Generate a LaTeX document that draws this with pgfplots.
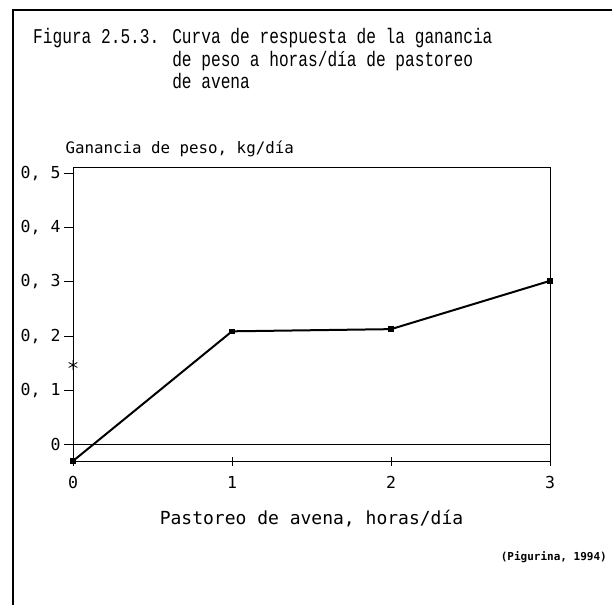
\documentclass[border=0pt]{standalone}
\usepackage{fontspec}
\usepackage{pgfplots}
\pgfplotsset{compat=1.18}
\newfontfamily\titlefont[FakeStretch=0.77]{Liberation Mono}
\newfontfamily\plotfont{DejaVu Sans Mono}

% ganancia de peso (kg/dia) segun horas/dia de pastoreo
\pgfplotstableread{
x y
0 -0.03
1 0.209
2 0.213
3 0.302
}\ganancia

\begin{document}
\begin{tikzpicture}
% marco de la pagina (solo izquierda y arriba, como el original)
\useasboundingbox (0,0) rectangle (612pt,605pt);
\draw[line width=2.2pt] (13pt,0pt) -- (13pt,595pt) -- (612pt,595pt);

% titulo
\node[anchor=base west, inner sep=0pt, font=\titlefont\fontsize{21}{22.5}\selectfont]
  at (33pt,561pt) {Figura 2.5.3. \def\arraystretch{1}\begin{tabular}[t]{@{}l@{}}Curva de respuesta de la ganancia\\de peso a horas/día de pastoreo\\de avena\end{tabular}};

\begin{axis}[
    at={(73pt,144pt)}, anchor=south west,
    scale only axis, width=477pt, height=293pt,
    xmin=0, xmax=3, ymin=-0.03, ymax=0.51,
    axis line style={line width=1pt},
    xtick={0,1,2,3}, xticklabels={0,1,2,3},
    ytick={0,0.1,0.2,0.3,0.4,0.5},
    yticklabels={0,{0, 1},{0, 2},{0, 3},{0, 4},{0, 5}},
    xtick pos=bottom, ytick pos=left,
    xtick align=center, ytick align=outside,
    major tick length=9pt,
    tick style={black, line width=0.9pt},
    ticklabel style={font=\plotfont\fontsize{16.5}{18}\selectfont},
    xticklabel style={yshift=-7pt},
    yticklabel style={xshift=0pt},
    every axis x label/.style={at={(axis description cs:0.5,0)}, anchor=base, yshift=-63pt},
    every axis y label/.style={at={(axis description cs:0,1)}, anchor=base west, xshift=-11pt, yshift=14pt},
    xlabel={\plotfont\fontsize{18}{20}\selectfont Pastoreo de avena, horas/día},
    ylabel={\plotfont\fontsize{15.8}{18}\selectfont Ganancia de peso, kg/día},
    clip=false,
]
% linea del cero
\addplot[black, line width=0.9pt] coordinates {(0,0) (3,0)};
% curva de respuesta
\addplot[black, line width=2pt, mark=square*, mark size=1.7pt] table[x=x, y=y] {\ganancia};
% asterisco en el eje
\addplot[black, only marks, mark=asterisk, mark size=5pt, line width=0.8pt] coordinates {(0,0.147)};
\end{axis}

% fuente
\node[anchor=base east, inner sep=0pt, font=\plotfont\bfseries\fontsize{11}{12}\selectfont]
  at (607pt,45pt) {(Pigurina, 1994)};
\end{tikzpicture}
\end{document}
